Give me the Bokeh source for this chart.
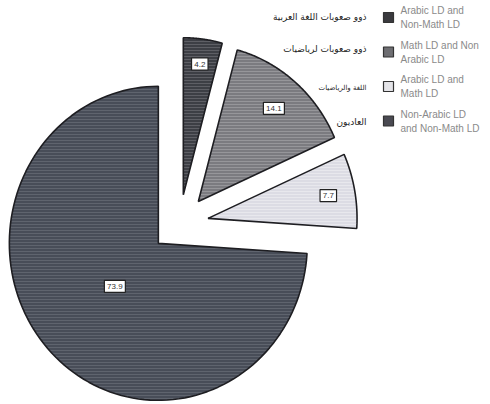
import numpy as np
from bokeh.plotting import figure
from bokeh.models import Range1d, ColumnDataSource
from bokeh.embed import file_html
from bokeh.resources import INLINE
from bokeh.core.properties import value

# ---- data ----
legend_line1 = ["Arabic LD and", "Math LD and Non", "Arabic LD and", "Non-Arabic LD"]
legend_line2 = ["Non-Math LD", "Arabic LD", "Math LD", "and Non-Math LD"]
groups_ar = ["ذوو صعوبات اللغة العربية", "ذوو صعوبات لرياضيات", "اللغة والرياضيات", "العاديون"]
shares = [4.2, 14.1, 7.7, 73.9]
share_labels = ["4.2", "14.1", "7.7", "73.9"]

# ---- styles / layout ----
fills = ["#3d3f45", "#7b7b80", "#dcdce4", "#484d58"]
hatch_cols = ["#9a9aa0", "#c8c8cc", "#ffffff", "#8a8f99"]
leg_fills = ["#3a3a3e", "#6e6e72", "#e4e4e8", "#4a4a52"]
label_frac = [0.84, 0.78, 0.82, 0.40]
W, H = 490, 404
cx, cy = 179, 223          # pie centre (screen px)
rx, ry = 149, 157          # radii (scan is slightly squashed)
explode = 29

p = figure(width=W, height=H, output_backend="svg", toolbar_location=None,
           x_range=Range1d(0, W), y_range=Range1d(H, 0), min_border=0)
p.axis.visible = False
p.grid.visible = False
p.outline_line_color = None
p.background_fill_color = "white"
p.border_fill_color = "white"

vals = np.array(shares, dtype=float)
frac = vals / vals.sum()
cum = np.concatenate([[0], np.cumsum(frac)])
a0 = np.pi / 2 - cum[:-1] * 2 * np.pi
a1 = np.pi / 2 - cum[1:] * 2 * np.pi
mid = (a0 + a1) / 2

xs, ys, lx, ly = [], [], [], []
for i in range(len(vals)):
    ox = cx + explode * np.cos(mid[i])
    oy = cy - explode * np.sin(mid[i])
    th = np.linspace(a0[i], a1[i], 120)
    xs.append(np.concatenate([[ox], ox + rx * np.cos(th), [ox]]))
    ys.append(np.concatenate([[oy], oy - ry * np.sin(th), [oy]]))
    lx.append(ox + label_frac[i] * rx * np.cos(mid[i]))
    ly.append(oy - label_frac[i] * ry * np.sin(mid[i]))

src = ColumnDataSource(dict(xs=xs, ys=ys, fill=fills, hc=hatch_cols))
p.patches("xs", "ys", source=src, fill_color="fill", line_color="#1e1e22", line_width=1.6,
          hatch_pattern="horizontal_line", hatch_color="hc", hatch_alpha=0.35,
          hatch_scale=3, hatch_weight=1)

# value boxes
bw = [4.5 * len(s) + 3 for s in share_labels]
lsrc = ColumnDataSource(dict(x=lx, y=ly, t=share_labels, w=bw))
p.rect("x", "y", width="w", height=12, width_units="screen", height_units="screen",
       source=lsrc, fill_color="white", line_color="#222222", line_width=1.2)
p.text("x", "y", text="t", source=lsrc, text_align="center", text_baseline="middle",
       text_font=value("Liberation Sans"), text_font_size="8px", text_color="#333333")

# legend (manual)
n = len(shares)
leg_y = [17 + 34.5 * i for i in range(n)]
legsrc = ColumnDataSource(dict(x=[388] * n, y=leg_y, f=leg_fills,
                               y1=[v - 7 for v in leg_y], y2=[v + 7 for v in leg_y],
                               t1=legend_line1, t2=legend_line2))
p.rect("x", "y", width=10, height=10, width_units="screen", height_units="screen",
       source=legsrc, fill_color="f", line_color="#333333", line_width=1.2)
p.text(400, "y1", text="t1", source=legsrc, text_align="left", text_baseline="middle",
       text_font=value("Liberation Sans"), text_font_size="10px", text_color="#8a8a8a")
p.text(400, "y2", text="t2", source=legsrc, text_align="left", text_baseline="middle",
       text_font=value("Liberation Sans"), text_font_size="10px", text_color="#8a8a8a")

# Arabic labels
arsizes = ["9px", "9px", "7px", "9px"]
arsrc = ColumnDataSource(dict(x=[366] * n, y=[16, 48, 87, 121], t=groups_ar, s=arsizes))
p.text("x", "y", text="t", source=arsrc, text_align="right", text_baseline="middle",
       text_font=value("DejaVu Sans"), text_font_size="s", text_color="#222222")

open("out.html", "w").write(file_html(p, INLINE))
